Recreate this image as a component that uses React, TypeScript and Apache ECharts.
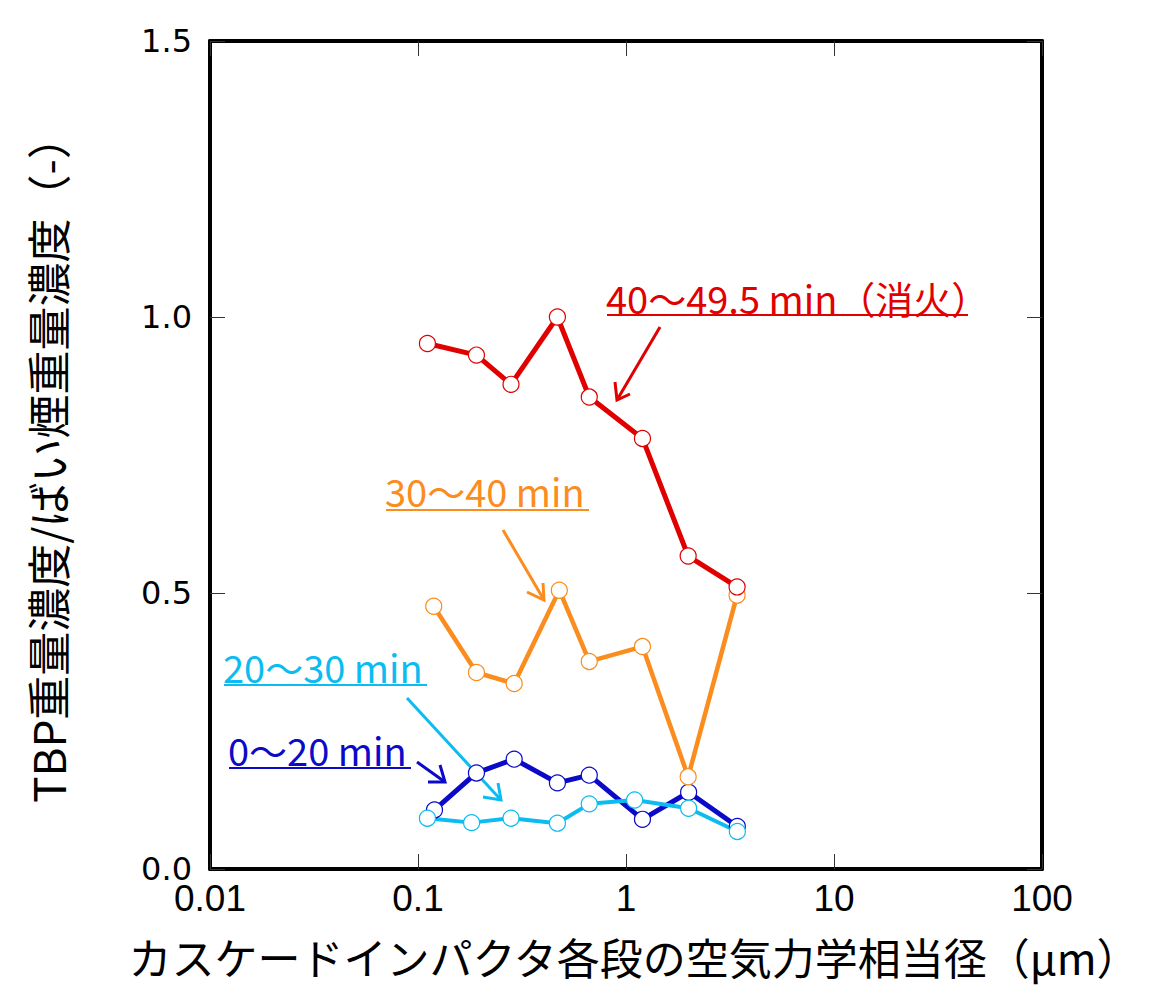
import React, { useEffect, useRef } from "react";
import * as echarts from "echarts";

// Aerodynamic equivalent diameter of each cascade impactor stage (µm) and the
// TBP / soot mass concentration ratio for each sampling period.
const X_0_20 = [0.12, 0.191, 0.29, 0.468, 0.666, 1.2, 2.0, 3.43];
const Y_0_20 = [0.107, 0.174, 0.199, 0.156, 0.17, 0.09, 0.139, 0.077];

const X_20_30 = [0.111, 0.181, 0.28, 0.468, 0.666, 1.1, 2.0, 3.43];
const Y_20_30 = [0.092, 0.084, 0.092, 0.083, 0.118, 0.125, 0.11, 0.068];

const X_30_40 = [0.119, 0.191, 0.29, 0.478, 0.666, 1.2, 1.99, 3.42];
const Y_30_40 = [0.476, 0.356, 0.336, 0.505, 0.376, 0.403, 0.167, 0.496];

const X_40_495 = [0.111, 0.191, 0.28, 0.468, 0.666, 1.2, 1.99, 3.42];
const Y_40_495 = [0.952, 0.931, 0.878, 1.0, 0.855, 0.78, 0.567, 0.511];

const SERIES_NAMES = ["0～20 min", "20～30 min", "30～40 min", "40～49.5 min（消火）"];
const X_TICK_LABELS = ["0.01", "0.1", "1", "10", "100"];
const Y_TICK_LABELS = ["0.0", "0.5", "1.0", "1.5"];

const X_TITLE = "カスケードインパクタ各段の空気力学相当径（µm）";
const Y_TITLE = "TBP重量濃度/ばい煙重量濃度（-）";

const NAVY = "#0a0ac8";
const SKY = "#0cbcf0";
const ORANGE = "#fb8c1e";
const RED = "#e00000";

const CJK = "'Noto Sans CJK JP', 'Noto Sans', sans-serif";

const pairs = (xs: number[], ys: number[]) => xs.map((x, i) => [x, ys[i]]);

const makeSeries = (name: string, xs: number[], ys: number[], color: string, width: number) => ({
  name,
  type: "line",
  data: pairs(xs, ys),
  symbol: "circle",
  symbolSize: 16,
  showAllSymbol: true,
  lineStyle: { color, width },
  itemStyle: { color: "#ffffff", borderColor: color, borderWidth: 1.2 },
  emphasis: { disabled: true },
});

// Callout: underlined label plus an arrow pointing at its curve.
const callout = (
  text: string,
  color: string,
  tx: number,
  ty: number,
  ulFrom: number,
  ulTo: number,
  ulY: number,
  from: number[],
  tip: number[],
  arm1: number[],
  arm2: number[]
) => [
  {
    type: "text",
    x: tx,
    y: ty,
    style: {
      text,
      fill: color,
      fontSize: 38,
      fontFamily: CJK,
      align: "left",
      verticalAlign: "middle",
    },
  },
  {
    type: "line",
    shape: { x1: ulFrom, y1: ulY, x2: ulTo, y2: ulY },
    style: { stroke: color, lineWidth: 2 },
  },
  {
    type: "line",
    shape: { x1: from[0], y1: from[1], x2: tip[0], y2: tip[1] },
    style: { stroke: color, lineWidth: 3 },
  },
  {
    type: "polyline",
    shape: { points: [arm1, tip, arm2] },
    style: { stroke: color, lineWidth: 3, fill: "none" },
  },
];

export default function App() {
  const ref = useRef<HTMLDivElement>(null);

  useEffect(() => {
    if (!ref.current) return;
    const chart = echarts.init(ref.current, undefined, { renderer: "svg" });

    const tickStyle = { show: true, inside: true, length: 15, lineStyle: { color: "#333", width: 1 } };
    const frameLine = { show: true, onZero: false, lineStyle: { color: "#000", width: 4 } };

    const xLabel = (v: number) => {
      const idx = Math.round(Math.log10(v)) + 2;
      return X_TICK_LABELS[idx] ?? "";
    };
    const yLabel = (v: number) => {
      const idx = Math.round(v / 0.5);
      return Y_TICK_LABELS[idx] ?? "";
    };

    chart.setOption({
      animation: false,
      backgroundColor: "#ffffff",
      grid: { left: 210, right: 107, top: 41, bottom: 118, containLabel: false },
      xAxis: [
        {
          type: "log",
          logBase: 10,
          min: 0.01,
          max: 100,
          splitNumber: 4,
          position: "bottom",
          axisLine: frameLine,
          axisTick: tickStyle,
          minorTick: { show: false },
          splitLine: { show: false },
          axisLabel: {
            formatter: xLabel,
            color: "#000",
            fontSize: 37,
            lineHeight: 28,
            fontFamily: "'Liberation Sans Narrow', 'Liberation Sans', Arial, sans-serif",
            margin: 15,
          },
        },
        {
          type: "log",
          logBase: 10,
          min: 0.01,
          max: 100,
          splitNumber: 4,
          position: "top",
          axisLine: frameLine,
          axisTick: tickStyle,
          splitLine: { show: false },
          axisLabel: { show: false },
        },
      ],
      yAxis: [
        {
          type: "value",
          min: 0,
          max: 1.5,
          interval: 0.5,
          position: "left",
          axisLine: frameLine,
          axisTick: tickStyle,
          splitLine: { show: false },
          axisLabel: {
            formatter: yLabel,
            color: "#000",
            fontSize: 32,
            lineHeight: 26,
            fontFamily: "'DejaVu Sans', sans-serif",
            margin: 18,
          },
        },
        {
          type: "value",
          min: 0,
          max: 1.5,
          interval: 0.5,
          position: "right",
          axisLine: frameLine,
          axisTick: tickStyle,
          splitLine: { show: false },
          axisLabel: { show: false },
        },
      ],
      series: [
        makeSeries(SERIES_NAMES[0], X_0_20, Y_0_20, NAVY, 5),
        makeSeries(SERIES_NAMES[1], X_20_30, Y_20_30, SKY, 4),
        makeSeries(SERIES_NAMES[2], X_30_40, Y_30_40, ORANGE, 4.5),
        makeSeries(SERIES_NAMES[3], X_40_495, Y_40_495, RED, 5),
      ],
      graphic: [
        {
          type: "text",
          x: 634,
          y: 956,
          style: {
            text: X_TITLE,
            fill: "#000",
            fontSize: 43,
            lineHeight: 46,
            fontFamily: CJK,
            align: "center",
            verticalAlign: "middle",
          },
        },
        {
          type: "text",
          x: 47,
          y: 459,
          rotation: Math.PI / 2,
          style: {
            text: Y_TITLE,
            fill: "#000",
            fontSize: 44,
            lineHeight: 46,
            fontFamily: CJK,
            align: "center",
            verticalAlign: "middle",
          },
        },
        ...callout(SERIES_NAMES[3], RED, 606, 297, 607, 968, 315, [660, 327], [617, 400], [630, 394], [615, 382]),
        ...callout(SERIES_NAMES[2], ORANGE, 385, 490, 386, 589, 510, [503, 530], [544, 600], [527, 592], [543, 583]),
        ...callout(SERIES_NAMES[1], SKY, 223, 666, 224, 427, 685, [407, 698], [501, 800], [483, 797], [498, 783]),
        ...callout(SERIES_NAMES[0], NAVY, 228, 749, 229, 411, 768, [417, 762], [445, 782], [440, 765], [428, 782]),
      ],
    });

    return () => chart.dispose();
  }, []);

  return (
    <div
      ref={ref}
      style={{ position: "absolute", left: 0, top: 0, width: 1149, height: 987, background: "#fff" }}
    />
  );
}
